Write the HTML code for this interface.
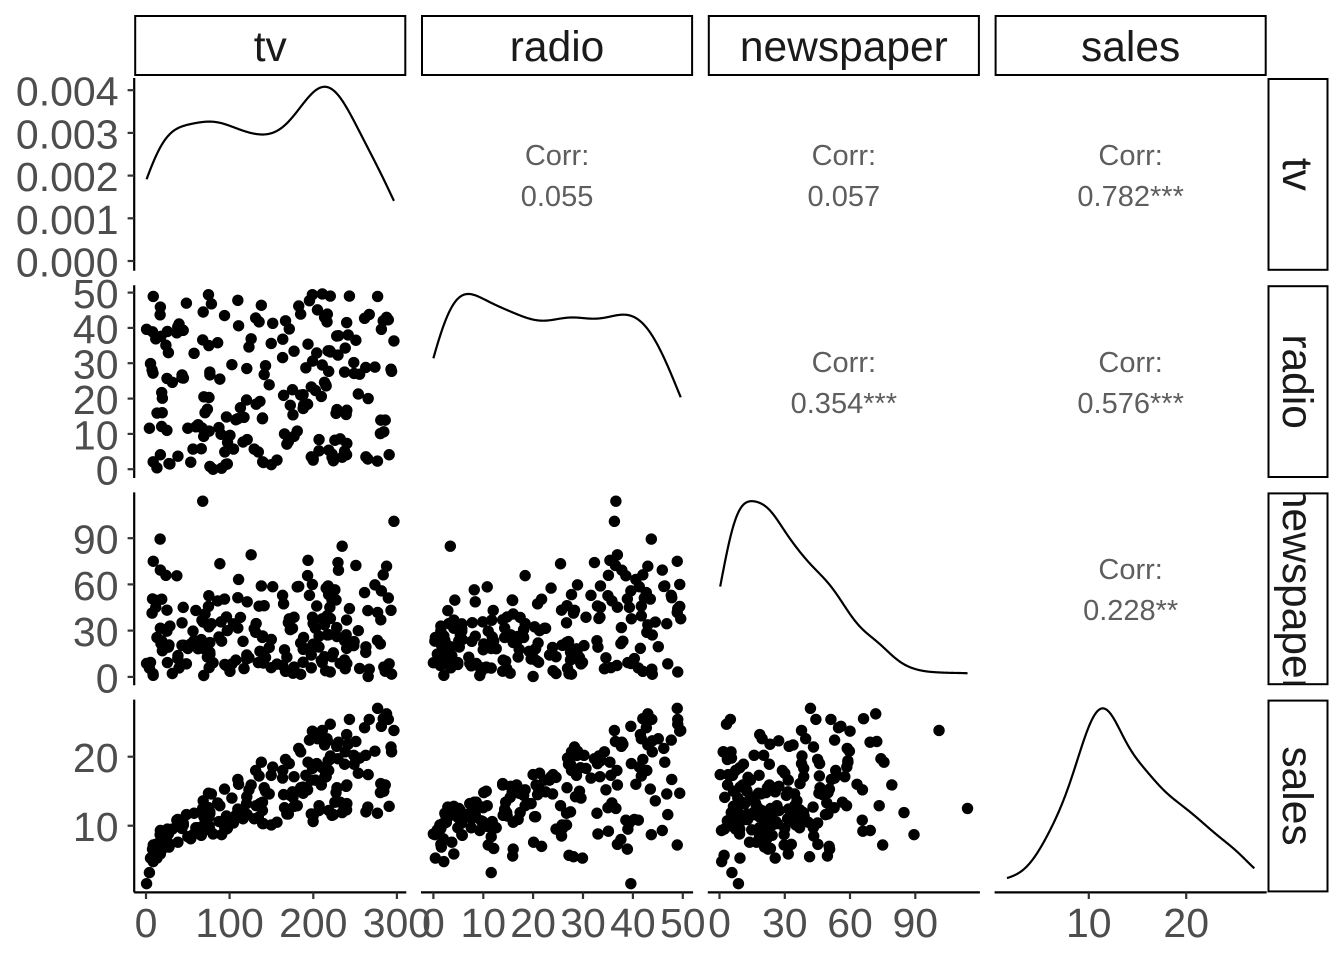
<!DOCTYPE html>
<html>
<head>
<meta charset="utf-8">
<style>
html,body{margin:0;padding:0;background:#fff;}
svg{display:block;}
.tk{font-family:"Liberation Sans",Arial,sans-serif;font-size:41px;fill:#4D4D4D;}
.st{font-family:"Liberation Sans",Arial,sans-serif;font-size:42.5px;fill:#1A1A1A;}
.cr{font-family:"Liberation Sans",Arial,sans-serif;font-size:29px;fill:#5e5e5e;}
</style>
</head>
<body>
<svg id="s" width="1344" height="960" viewBox="0 0 1344 960" xmlns="http://www.w3.org/2000/svg">
<rect x="0" y="0" width="1344" height="960" fill="#fff"/>
<defs>
<clipPath id="c0"><rect x="1268.5" y="79" width="59" height="190.8"/></clipPath>
<clipPath id="c1"><rect x="1268.5" y="286.2" width="59" height="190.8"/></clipPath>
<clipPath id="c2"><rect x="1268.5" y="493.4" width="59" height="190.8"/></clipPath>
<clipPath id="c3"><rect x="1268.5" y="700.6" width="59" height="190.8"/></clipPath>
</defs>

<!-- top strips -->
<g fill="#fff" stroke="#000" stroke-width="2">
<rect x="135.2" y="16" width="270.1" height="59"/>
<rect x="422" y="16" width="270.1" height="59"/>
<rect x="708.8" y="16" width="270.1" height="59"/>
<rect x="995.6" y="16" width="270.1" height="59"/>
<rect x="1268.5" y="79" width="59" height="190.8"/>
<rect x="1268.5" y="286.2" width="59" height="190.8"/>
<rect x="1268.5" y="493.4" width="59" height="190.8"/>
<rect x="1268.5" y="700.6" width="59" height="190.8"/>
</g>
<g class="st" text-anchor="middle">
<text x="270.25" y="61">tv</text>
<text x="557.05" y="61">radio</text>
<text x="843.85" y="61">newspaper</text>
<text x="1130.65" y="61">sales</text>
</g>
<g class="st" text-anchor="middle">
<g clip-path="url(#c0)"><text transform="translate(1298,174.4) rotate(90)" y="15">tv</text></g>
<g clip-path="url(#c1)"><text transform="translate(1298,381.6) rotate(90)" y="15">radio</text></g>
<g clip-path="url(#c2)"><text transform="translate(1298,588.8) rotate(90)" y="15">newspaper</text></g>
<g clip-path="url(#c3)"><text transform="translate(1298,796.0) rotate(90)" y="15">sales</text></g>
</g>

<!-- correlation text -->
<g class="cr" text-anchor="middle">
<text x="557.05" y="165">Corr:</text><text x="557.05" y="206">0.055</text>
<text x="843.85" y="165">Corr:</text><text x="843.85" y="206">0.057</text>
<text x="1130.65" y="165">Corr:</text><text x="1130.65" y="206">0.782***</text>
<text x="843.85" y="372">Corr:</text><text x="843.85" y="413">0.354***</text>
<text x="1130.65" y="372">Corr:</text><text x="1130.65" y="413">0.576***</text>
<text x="1130.65" y="579">Corr:</text><text x="1130.65" y="620">0.228**</text>
</g>

<!-- axis lines -->
<g stroke="#000" stroke-width="2.2" fill="none">
<line x1="134.2" y1="78" x2="134.2" y2="270.8"/>
<line x1="134.2" y1="285.2" x2="134.2" y2="478"/>
<line x1="134.2" y1="492.4" x2="134.2" y2="685.2"/>
<line x1="134.2" y1="699.6" x2="134.2" y2="892.4"/>
<line x1="134.2" y1="892.4" x2="406.3" y2="892.4"/>
<line x1="421" y1="892.4" x2="693.1" y2="892.4"/>
<line x1="707.8" y1="892.4" x2="979.9" y2="892.4"/>
<line x1="994.6" y1="892.4" x2="1266.7" y2="892.4"/>
</g>
<!-- y ticks -->
<g stroke="#333" stroke-width="2.2">
<line x1="127.6" x2="134.2" y1="261" y2="261"/>
<line x1="127.6" x2="134.2" y1="218.3" y2="218.3"/>
<line x1="127.6" x2="134.2" y1="175.6" y2="175.6"/>
<line x1="127.6" x2="134.2" y1="132.9" y2="132.9"/>
<line x1="127.6" x2="134.2" y1="90.2" y2="90.2"/>
<line x1="127.6" x2="134.2" y1="469.2" y2="469.2"/>
<line x1="127.6" x2="134.2" y1="433.9" y2="433.9"/>
<line x1="127.6" x2="134.2" y1="398.6" y2="398.6"/>
<line x1="127.6" x2="134.2" y1="363.2" y2="363.2"/>
<line x1="127.6" x2="134.2" y1="327.9" y2="327.9"/>
<line x1="127.6" x2="134.2" y1="292.6" y2="292.6"/>
<line x1="127.6" x2="134.2" y1="676.9" y2="676.9"/>
<line x1="127.6" x2="134.2" y1="630.6" y2="630.6"/>
<line x1="127.6" x2="134.2" y1="584.4" y2="584.4"/>
<line x1="127.6" x2="134.2" y1="538.2" y2="538.2"/>
<line x1="127.6" x2="134.2" y1="825.7" y2="825.7"/>
<line x1="127.6" x2="134.2" y1="756.7" y2="756.7"/>
</g>
<!-- x ticks -->
<g stroke="#333" stroke-width="2.2">
<line y1="892.4" y2="899" x1="146" x2="146"/>
<line y1="892.4" y2="899" x1="229.6" x2="229.6"/>
<line y1="892.4" y2="899" x1="313.3" x2="313.3"/>
<line y1="892.4" y2="899" x1="396.9" x2="396.9"/>
<line y1="892.4" y2="899" x1="433.4" x2="433.4"/>
<line y1="892.4" y2="899" x1="483.3" x2="483.3"/>
<line y1="892.4" y2="899" x1="533.1" x2="533.1"/>
<line y1="892.4" y2="899" x1="583" x2="583"/>
<line y1="892.4" y2="899" x1="632.9" x2="632.9"/>
<line y1="892.4" y2="899" x1="682.8" x2="682.8"/>
<line y1="892.4" y2="899" x1="719.5" x2="719.5"/>
<line y1="892.4" y2="899" x1="784.8" x2="784.8"/>
<line y1="892.4" y2="899" x1="850" x2="850"/>
<line y1="892.4" y2="899" x1="915.3" x2="915.3"/>
<line y1="892.4" y2="899" x1="1088.8" x2="1088.8"/>
<line y1="892.4" y2="899" x1="1186.2" x2="1186.2"/>
</g>
<!-- y tick labels -->
<g class="tk" text-anchor="end">
<text x="118.5" y="276.5">0.000</text>
<text x="118.5" y="233.8">0.001</text>
<text x="118.5" y="191.1">0.002</text>
<text x="118.5" y="148.4">0.003</text>
<text x="118.5" y="105.7">0.004</text>
<text x="118.5" y="484.7">0</text>
<text x="118.5" y="449.4">10</text>
<text x="118.5" y="414.1">20</text>
<text x="118.5" y="378.7">30</text>
<text x="118.5" y="343.4">40</text>
<text x="118.5" y="308.1">50</text>
<text x="118.5" y="692.4">0</text>
<text x="118.5" y="646.1">30</text>
<text x="118.5" y="599.9">60</text>
<text x="118.5" y="553.7">90</text>
<text x="118.5" y="841.2">10</text>
<text x="118.5" y="772.2">20</text>
</g>
<!-- x tick labels -->
<g class="tk" text-anchor="middle">
<text x="146" y="937">0</text>
<text x="229.6" y="937">100</text>
<text x="313.3" y="937">200</text>
<text x="396.9" y="937">300</text>
<text x="433.4" y="937">0</text>
<text x="483.3" y="937">10</text>
<text x="533.1" y="937">20</text>
<text x="583" y="937">30</text>
<text x="632.9" y="937">40</text>
<text x="682.8" y="937">50</text>
<text x="719.5" y="937">0</text>
<text x="784.8" y="937">30</text>
<text x="850" y="937">60</text>
<text x="915.3" y="937">90</text>
<text x="1088.8" y="937">10</text>
<text x="1186.2" y="937">20</text>
</g>
<g id="pts" fill="#000"></g>
<g id="dens" fill="none" stroke="#000" stroke-width="2.2" stroke-linejoin="round"></g>
</svg>
<script>
const D=[
[230.1,37.8,69.2,22.1],[44.5,39.3,45.1,10.4],[17.2,45.9,69.3,9.3],[151.5,41.3,58.5,18.5],[180.8,10.8,58.4,12.9],
[8.7,48.9,75,7.2],[57.5,32.8,23.5,11.8],[120.2,19.6,11.6,13.2],[8.6,2.1,1,4.8],[199.8,2.6,21.2,10.6],
[66.1,5.8,24.2,8.6],[214.7,24,4,17.4],[23.8,35.1,65.9,9.2],[97.5,7.6,7.2,9.7],[204.1,32.9,46,19],
[195.4,47.7,52.9,22.4],[67.8,36.6,114,12.5],[281.4,39.6,55.8,24.4],[69.2,20.5,18.3,11.3],[147.3,23.9,19.1,14.6],
[218.4,27.7,53.4,18],[237.4,5.1,23.5,12.5],[13.2,15.9,49.6,5.6],[228.3,16.9,26.2,15.5],[62.3,12.6,18.3,9.7],
[262.9,3.5,19.5,12],[142.9,29.3,12.6,15],[240.1,16.7,22.9,15.9],[248.8,27.1,22.9,18.9],[70.6,16,40.8,10.5],
[292.9,28.3,43.2,21.4],[112.9,17.4,38.6,11.9],[97.2,1.5,30,9.6],[265.6,20,0.3,17.4],[95.7,1.4,7.4,9.5],
[290.7,4.1,8.5,12.8],[266.9,43.8,5,25.4],[74.7,49.4,45.7,14.7],[43.1,26.7,35.1,10.1],[228,37.7,32,21.5],
[202.5,22.3,31.6,16.6],[177,33.4,38.7,17.1],[293.6,27.7,1.8,20.7],[206.9,8.4,26.4,12.9],[25.1,25.7,43.3,8.5],
[175.1,22.5,31.5,14.9],[89.7,9.9,35.7,10.6],[239.9,41.5,18.5,23.2],[227.2,15.8,49.9,14.8],[66.9,11.7,36.8,9.7],
[199.8,3.1,34.6,11.4],[100.4,9.6,3.6,10.7],[216.4,41.7,39.6,22.6],[182.6,46.2,58.7,21.2],[262.7,28.8,15.9,20.2],
[198.9,49.4,60,23.7],[7.3,28.1,41.4,5.5],[136.2,19.2,16.6,13.2],[210.8,49.6,37.7,23.8],[210.7,29.5,9.3,18.4],
[53.5,2,21.4,8.1],[261.3,42.7,54.7,24.2],[239.3,15.5,27.3,15.7],[102.7,29.6,8.4,14],[131.1,42.8,28.9,18],
[69,9.3,0.9,9.3],[31.5,24.6,2.2,9.5],[139.3,14.5,10.2,13.4],[237.4,27.5,11,18.9],[216.8,43.9,27.2,22.3],
[199.1,30.6,38.7,18.3],[109.8,14.3,31.7,12.4],[26.8,33,19.3,8.8],[129.4,5.7,31.3,11],[213.4,24.6,13.1,17],
[16.9,43.7,89.4,8.7],[27.5,1.6,20.7,6.9],[120.5,28.5,14.2,14.2],[5.4,29.9,9.4,5.3],[116,7.7,23.1,11],
[76.4,26.7,22.3,11.8],[239.8,4.1,36.9,12.3],[75.3,20.3,32.5,11.3],[68.4,44.5,35.6,13.6],[213.5,43,33.8,21.7],
[193.2,18.4,65.7,15.2],[76.3,27.5,16,12],[110.7,40.6,63.2,16],[88.3,25.5,73.4,12.9],[109.8,47.8,51.4,16.7],
[134.3,4.9,9.3,11.2],[28.6,1.5,33,7.3],[217.7,33.5,59,19.4],[250.9,36.5,72.3,22.2],[107.4,14,10.9,11.5],
[163.3,31.6,52.9,16.9],[197.6,3.5,5.9,11.7],[184.9,21,22,15.5],[289.7,42.3,51.2,25.4],[135.2,41.7,45.9,17.2],
[222.4,4.3,49.8,11.7],[296.4,36.3,100.9,23.8],[280.2,10.1,21.4,14.8],[187.9,17.2,17.9,14.7],[238.2,34.3,5.3,20.7],
[137.9,46.4,59,19.2],[25,11,29.7,7.2],[90.4,0.3,23.2,8.7],[13.1,0.4,25.6,5.3],[255.4,26.9,5.5,19.8],
[225.8,8.2,56.5,13.4],[241.7,38,23.2,21.8],[175.7,15.4,2.4,14.1],[209.6,20.6,10.7,15.9],[78.2,46.8,34.5,14.6],
[75.1,35,52.7,12.6],[139.2,14.3,25.6,12.2],[76.4,0.8,14.8,9.4],[125.7,36.9,79.2,15.9],[19.4,16,22.3,6.6],
[141.3,26.8,46.2,15.5],[18.8,21.7,50.4,7],[224,2.4,15.6,11.6],[123.1,34.6,12.4,15.2],[229.5,32.3,74.2,19.7],
[87.2,11.8,25.9,10.6],[7.8,38.9,50.6,6.6],[80.2,0,9.2,8.8],[220.3,49,3.2,24.7],[59.6,12,43.1,9.7],
[0.7,39.6,8.7,1.6],[265.2,2.9,43,12.7],[8.4,27.2,2.1,5.7],[219.8,33.5,45.1,19.6],[36.9,38.6,65.6,10.8],
[48.3,47,8.5,11.6],[25.6,39,9.3,9.5],[273.7,28.9,59.7,20.8],[43,25.9,20.5,9.6],[184.9,43.9,1.7,20.7],
[73.4,17,12.9,10.9],[193.7,35.4,75.6,19.2],[220.5,33.2,37.9,20.1],[104.6,5.7,34.4,10.4],[96.2,14.8,38.9,11.4],
[140.3,1.9,9,10.3],[240.1,7.3,8.7,13.2],[243.2,49,44.3,25.4],[38,40.3,11.9,10.9],[44.7,25.8,20.6,10.1],
[280.7,13.9,37,16.1],[121,8.4,48.7,11.6],[197.6,23.3,14.2,16.6],[171.3,39.7,37.7,19],[187.8,21.1,9.5,15.6],
[4.1,11.6,5.7,3.2],[93.9,43.5,50.5,15.3],[149.8,1.3,24.3,10.1],[11.7,36.9,45.2,7.3],[131.7,18.4,34.6,12.9],
[172.5,18.1,30.7,14.4],[85.7,35.8,49.3,13.3],[188.4,18.1,25.6,14.9],[163.5,36.8,7.4,18],[117.2,14.7,5.4,11.9],
[234.5,3.4,84.8,11.9],[17.9,37.6,21.6,8],[206.8,5.2,19.4,12.2],[215.4,23.6,57.6,17.1],[284.3,10.6,6.4,15],
[50,11.6,18.4,8.4],[164.5,20.9,47.4,14.5],[19.6,20.1,17,7.6],[168.4,7.1,12.8,11.7],[222.4,3.4,13.1,11.5],
[276.9,48.9,41.8,27],[248.4,30.2,20.3,20.2],[170.2,7.8,35.2,11.7],[276.7,2.3,23.7,11.8],[165.6,10,17.6,12.6],
[156.6,2.6,8.3,10.5],[218.5,5.4,27.4,12.2],[56.2,5.7,29.7,8.7],[287.6,43,71.8,26.2],[253.8,21.3,30,17.6],
[205,45.1,19.6,22.6],[139.5,2.1,26.6,10.3],[191.1,28.7,18.2,17.3],[286,13.9,3.7,15.9],[18.7,12.1,23.4,6.7],
[39.5,41.1,5.8,10.8],[75.5,10.8,6,9.9],[17.2,4.1,31.6,5.9],[166.8,42,3.6,19.6],[149.7,35.6,6,17.3],
[38.2,3.7,13.8,7.6],[94.2,4.9,8.1,9.7],[177,9.3,6.4,12.8],[283.6,42,66.2,25.5],[232.1,8.6,8.7,13.4]
];
(function(){
const NS="http://www.w3.org/2000/svg";
const PX=c=>134.2+c*286.8, PY=r=>78+r*207.2, W=272.1, H=192.8;
const vars=[0,1,2,3].map(i=>D.map(d=>d[i]));
const lims=vars.map(v=>{const mn=Math.min.apply(null,v),mx=Math.max.apply(null,v),r=mx-mn;return [mn-0.05*r,mx+0.05*r];});
const sx=(i,val,c)=>PX(c)+(val-lims[i][0])/(lims[i][1]-lims[i][0])*W;
const sy=(i,val,r)=>PY(r)+H-(val-lims[i][0])/(lims[i][1]-lims[i][0])*H;
const gp=document.getElementById('pts');
for(let r=1;r<4;r++){for(let c=0;c<r;c++){
  for(const d of D){
    const e=document.createElementNS(NS,'circle');
    e.setAttribute('cx',sx(c,d[c],c).toFixed(2));
    e.setAttribute('cy',sy(r,d[r],r).toFixed(2));
    e.setAttribute('r','5.7');
    gp.appendChild(e);
  }
}}
function dens(x){
  const n=x.length; const s=x.slice().sort((a,b)=>a-b);
  const mean=x.reduce((a,b)=>a+b,0)/n;
  const sd=Math.sqrt(x.reduce((a,b)=>a+(b-mean)*(b-mean),0)/(n-1));
  const q=p=>{const h=(n-1)*p,f=Math.floor(h);const nx=(f+1<n)?s[f+1]:s[f];return s[f]+(h-f)*(nx-s[f]);};
  const iqr=q(.75)-q(.25);
  const bw=0.9*Math.min(sd,iqr/1.34)*Math.pow(n,-0.2);
  const lo=s[0],hi=s[n-1],pts=[];
  const k=1/(n*bw*Math.sqrt(2*Math.PI));
  for(let i=0;i<512;i++){const t=lo+(hi-lo)*i/511;let d=0;for(const v of x){const z=(t-v)/bw;d+=Math.exp(-0.5*z*z);}pts.push([t,d*k]);}
  return pts;
}
const gd=document.getElementById('dens');
for(let k=0;k<4;k++){
  const p=dens(vars[k]);
  let M=0;for(const q of p)if(q[1]>M)M=q[1];
  let dstr='';
  p.forEach((q,i)=>{
    const x=sx(k,q[0],k);
    const y=PY(k)+H-(q[1]+0.05*M)/(1.1*M)*H;
    dstr+=(i?'L':'M')+x.toFixed(2)+','+y.toFixed(2);
  });
  const e=document.createElementNS(NS,'path');
  e.setAttribute('d',dstr);
  gd.appendChild(e);
}
})();
</script>
</body>
</html>
